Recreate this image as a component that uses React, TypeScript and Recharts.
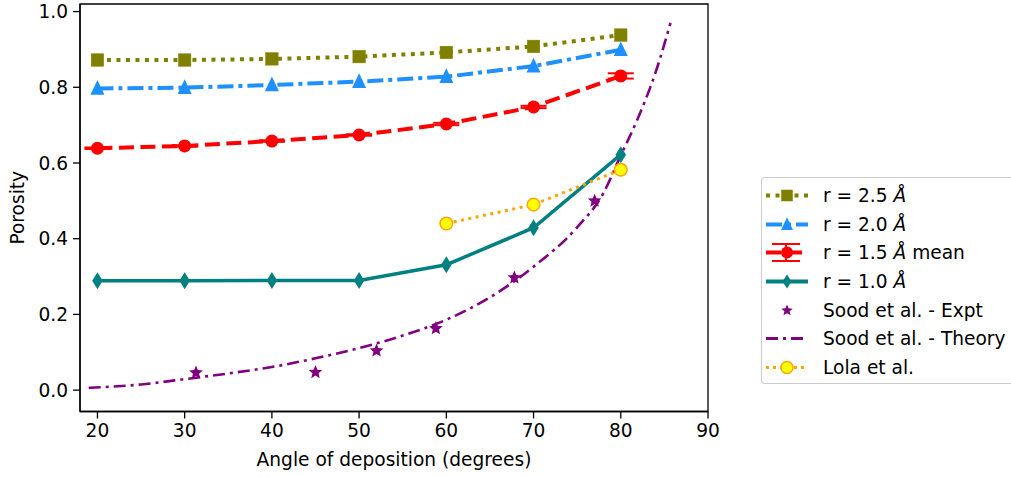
import React from 'react';
import { ComposedChart, Line, Scatter, XAxis, YAxis, ErrorBar, Legend, ReferenceArea } from 'recharts';

const angles = [20, 30, 40, 50, 60, 70, 80];
const r25 = [0.872, 0.872, 0.875, 0.881, 0.892, 0.908, 0.938];
const r20 = [0.797, 0.799, 0.806, 0.815, 0.828, 0.856, 0.899];
const r15 = [0.639, 0.645, 0.658, 0.674, 0.703, 0.748, 0.830];
const r15Err = [0.002, 0.002, 0.002, 0.002, 0.003, 0.003, 0.007];
const r10 = [0.289, 0.289, 0.2895, 0.2895, 0.331, 0.429, 0.622];
const lolaAngles = [60, 70, 80];
const lola = [0.44, 0.49, 0.582];
const exptAngles = [31.3, 45.0, 52.0, 58.8, 67.8, 77.0];
const expt = [0.046, 0.047, 0.104, 0.163, 0.297, 0.5];
const theoryAngles = [19, 25, 30, 35, 40, 45, 50, 55, 60, 65, 70, 75, 78, 80, 82, 84, 85.7];
const theory = [0.006, 0.015, 0.029, 0.044, 0.061, 0.084, 0.111, 0.144, 0.186, 0.245, 0.326, 0.43, 0.52, 0.62, 0.72, 0.84, 0.97];
const xTicks = [20, 30, 40, 50, 60, 70, 80, 90];
const yTicks = [0, 0.2, 0.4, 0.6, 0.8, 1.0];
const xDomain = [18, 90];
const yDomain = [-0.0565, 1.02];

const FONT = 'DejaVu Sans, sans-serif';
const FS = 18.6;

const mk = (xs: number[], ys: number[], err?: number[]) =>
  xs.map((x, i) => (err ? { x, y: ys[i], err: err[i] } : { x, y: ys[i] }));

const d25 = mk(angles, r25);
const d20 = mk(angles, r20);
const d15 = mk(angles, r15, r15Err);
const d10 = mk(angles, r10);
const dLola = mk(lolaAngles, lola);
const dExpt = mk(exptAngles, expt);
const dTheory = mk(theoryAngles, theory);

const C = {
  olive: '#808000',
  blue: '#1E90FF',
  red: '#FF0000',
  teal: '#008080',
  purple: '#800080',
  orange: '#FFA500',
  yellow: '#FFFF00',
};

const Square = ({ cx, cy, s = 12, color }: any) => (
  <rect x={cx - s / 2} y={cy - s / 2} width={s} height={s} fill={color} stroke={color} strokeWidth={0.5} />
);
const Triangle = ({ cx, cy, s = 13, color }: any) => (
  <polygon
    points={`${cx},${cy - s * 0.6} ${cx - s / 2},${cy + s * 0.45} ${cx + s / 2},${cy + s * 0.45}`}
    fill={color}
  />
);
const Circle = ({ cx, cy, r = 6.5, color, stroke }: any) => (
  <circle cx={cx} cy={cy} r={r} fill={color} stroke={stroke || color} strokeWidth={stroke ? 1.5 : 0} />
);
const Diamond = ({ cx, cy, w = 9, h = 14, color }: any) => (
  <polygon points={`${cx},${cy - h / 2} ${cx + w / 2},${cy} ${cx},${cy + h / 2} ${cx - w / 2},${cy}`} fill={color} />
);
const Star = ({ cx, cy, r = 6.5, color }: any) => {
  const pts: string[] = [];
  for (let i = 0; i < 10; i++) {
    const rad = i % 2 === 0 ? r : r * 0.45;
    const a = -Math.PI / 2 + (i * Math.PI) / 5;
    pts.push(`${cx + rad * Math.cos(a)},${cy + rad * Math.sin(a)}`);
  }
  return <polygon points={pts.join(' ')} fill={color} />;
};

const dotFn = (Comp: any, extra: any) => (props: any) => {
  const { cx, cy, index } = props;
  if (cx == null || cy == null) return <g key={`k${index}`} />;
  return <Comp key={`k${index}`} cx={cx} cy={cy} {...extra} />;
};

type LegendItem = {
  label: React.ReactNode;
  color: string;
  dash?: string;
  width?: number;
  marker?: (cx: number, cy: number) => React.ReactNode;
  noLine?: boolean;
  errorBar?: boolean;
};

const A = <tspan fontStyle="italic">Å</tspan>;

const legendItems: LegendItem[] = [
  { label: <>r = 2.5 {A}</>, color: C.olive, dash: '4 5.5', width: 4, marker: (x, y) => <Square cx={x} cy={y} s={11} color={C.olive} /> },
  { label: <>r = 2.0 {A}</>, color: C.blue, dash: '16 5 4 5', width: 4, marker: (x, y) => <Triangle cx={x} cy={y} s={12} color={C.blue} /> },
  { label: <>r = 1.5 {A} mean</>, color: C.red, dash: '15 6', width: 4, errorBar: true, marker: (x, y) => <Circle cx={x} cy={y} r={6} color={C.red} /> },
  { label: <>r = 1.0 {A}</>, color: C.teal, width: 4, marker: (x, y) => <Diamond cx={x} cy={y} w={9} h={14} color={C.teal} /> },
  { label: <>Sood et al. - Expt</>, color: C.purple, noLine: true, marker: (x, y) => <Star cx={x} cy={y} r={6} color={C.purple} /> },
  { label: <>Sood et al. - Theory</>, color: C.purple, dash: '12 5 3 5', width: 3 },
  { label: <>Lola et al.</>, color: C.orange, dash: '3 4', width: 3, marker: (x, y) => <Circle cx={x} cy={y} r={6} color={C.yellow} stroke={C.orange} /> },
];

const renderLegend = () => (
  <div
    style={{
      boxSizing: 'border-box',
      width: 250,
      height: 207,
      border: '1.3px solid #cccccc',
      borderRight: 'none',
      borderRadius: '4px 0 0 4px',
      background: '#fff',
      paddingTop: 3,
    }}
  >
    {legendItems.map((it, i) => (
      <svg key={i} width={250} height={28.7} style={{ display: 'block' }}>
        {!it.noLine && (
          <line x1={4} x2={46} y1={14.5} y2={14.5} stroke={it.color} strokeWidth={it.width} strokeDasharray={it.dash} />
        )}
        {it.errorBar && (
          <g stroke={it.color} strokeWidth={2}>
            <line x1={10} x2={38} y1={6} y2={6} />
            <line x1={10} x2={38} y1={23} y2={23} />
            <line x1={24} x2={24} y1={6} y2={23} />
          </g>
        )}
        {it.marker && it.marker(25, 14.5)}
        <text x={61} y={14.5} dy="0.35em" fontFamily={FONT} fontSize={FS} fill="#000">
          {it.label}
        </text>
      </svg>
    ))}
  </div>
);

const XLabel = (props: any) => {
  const vb = props.viewBox || {};
  const cx = vb.x + vb.width / 2;
  return (
    <text x={cx} y={466} textAnchor="middle" fontFamily={FONT} fontSize={FS} fill="#000">
      Angle of deposition (degrees)
    </text>
  );
};

const YLabel = (props: any) => {
  const vb = props.viewBox || {};
  const cy = vb.y + vb.height / 2;
  const x = 24;
  return (
    <text x={x} y={cy} transform={`rotate(-90 ${x} ${cy})`} textAnchor="middle" fontFamily={FONT} fontSize={FS} fill="#000">
      Porosity
    </text>
  );
};

export default function App() {
  return (
    <div style={{ position: 'absolute', left: 0, top: 0, width: 1011, height: 477, background: '#fff' }}>
      <ComposedChart
        width={1011}
        height={477}
        margin={{ top: 4, right: 303, bottom: 35.5, left: 0 }}
        style={{ fontFamily: FONT }}
      >
        <XAxis
          type="number"
          dataKey="x"
          domain={xDomain}
          ticks={xTicks}
          allowDataOverflow
          height={30}
          tickSize={7}
          tickMargin={5}
          stroke="#000"
          strokeWidth={1.3}
          tick={{ fill: '#000', fontSize: FS, fontFamily: FONT }}
          tickLine={{ stroke: '#000', strokeWidth: 1.3 }}
          label={{ content: XLabel }}
        />
        <YAxis
          type="number"
          dataKey="y"
          domain={yDomain}
          ticks={yTicks}
          allowDataOverflow
          width={80}
          tickSize={7}
          tickMargin={5}
          stroke="#000"
          strokeWidth={1.3}
          tick={{ fill: '#000', fontSize: FS, fontFamily: FONT }}
          tickLine={{ stroke: '#000', strokeWidth: 1.3 }}
          tickFormatter={(v: number) => v.toFixed(1)}
          label={{ content: YLabel }}
        />
        <ReferenceArea
          x1={xDomain[0]}
          x2={xDomain[1]}
          y1={yDomain[0]}
          y2={yDomain[1]}
          fill="none"
          fillOpacity={0}
          stroke="#000"
          strokeWidth={1.3}
          strokeOpacity={1}
          ifOverflow="visible"
        />
        <Line
          data={dTheory}
          dataKey="y"
          type="monotone"
          stroke={C.purple}
          strokeWidth={2.6}
          strokeDasharray="12 5 3 5"
          dot={false}
          isAnimationActive={false}
        />
        <Scatter data={dExpt} dataKey="y" fill={C.purple} isAnimationActive={false} shape={(p: any) => <Star cx={p.cx} cy={p.cy} r={7.2} color={C.purple} />} />
        <Line
          data={d10}
          dataKey="y"
          type="linear"
          stroke={C.teal}
          strokeWidth={3.5}
          dot={dotFn(Diamond, { color: C.teal, w: 10.5, h: 17 })}
          isAnimationActive={false}
        />
        <Line
          data={dLola}
          dataKey="y"
          type="linear"
          stroke={C.orange}
          strokeWidth={3}
          strokeDasharray="3 4.5"
          dot={dotFn(Circle, { color: C.yellow, stroke: C.orange, r: 6.3 })}
          isAnimationActive={false}
        />
        <Line
          data={d15}
          dataKey="y"
          type="linear"
          stroke={C.red}
          strokeWidth={4}
          strokeDasharray="15 6.5"
          dot={dotFn(Circle, { color: C.red, r: 6.5 })}
          isAnimationActive={false}
        >
          <ErrorBar dataKey="err" direction="y" width={13} stroke={C.red} strokeWidth={2} />
        </Line>
        <Line
          data={d20}
          dataKey="y"
          type="linear"
          stroke={C.blue}
          strokeWidth={4}
          strokeDasharray="16 5 4 5"
          dot={dotFn(Triangle, { color: C.blue, s: 14 })}
          isAnimationActive={false}
        />
        <Line
          data={d25}
          dataKey="y"
          type="linear"
          stroke={C.olive}
          strokeWidth={4}
          strokeDasharray="4 5.5"
          dot={dotFn(Square, { color: C.olive, s: 12.5 })}
          isAnimationActive={false}
        />
        <Legend
          layout="vertical"
          align="center"
          verticalAlign="middle"
          wrapperStyle={{ left: 761, top: 177, width: 250, height: 207 }}
          content={renderLegend}
        />
      </ComposedChart>
    </div>
  );
}
